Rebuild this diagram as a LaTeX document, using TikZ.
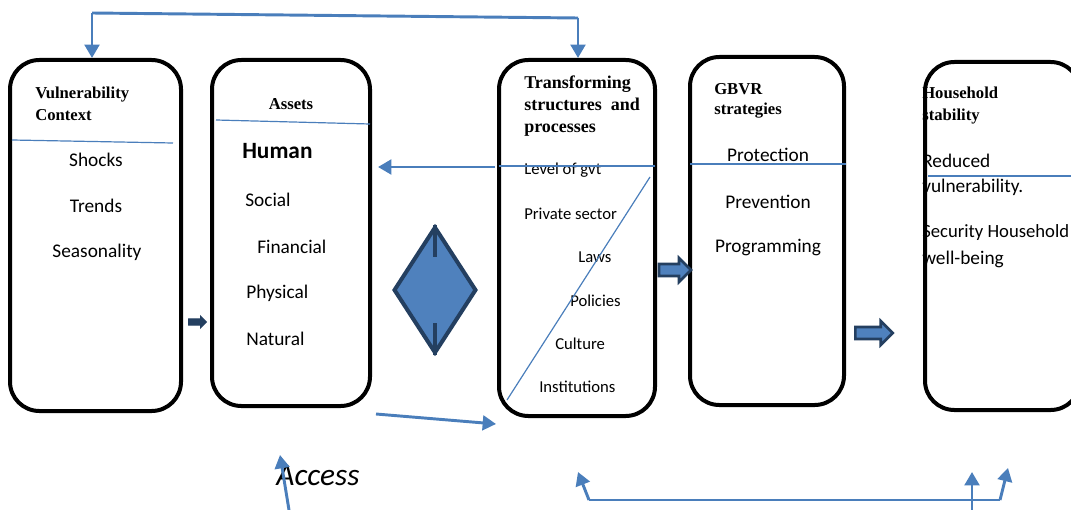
\documentclass[tikz,border=0pt]{standalone}
\usepackage{fontspec}
\setmainfont{Carlito}
\newfontfamily\headfont{Liberation Serif}
\usetikzlibrary{arrows.meta}
\usetikzlibrary{shapes.geometric}
\usetikzlibrary{shapes.arrows}
\usetikzlibrary{fit}
\usetikzlibrary{positioning}

\definecolor{lineblue}{HTML}{4A7EBB}
\definecolor{fillblue}{HTML}{4F81BD}
\definecolor{darkblue}{HTML}{243F60}

\tikzset{
  panel/.style={draw=black, line width=3pt, rounded corners=22pt, inner sep=0pt},
  head/.style={font=\headfont\bfseries\fontsize{12.5}{16.5}\selectfont, anchor=west, align=left, inner sep=0pt},
  item/.style={font=\fontsize{14.5}{17}\selectfont, inner sep=0pt},
  itemw/.style={item, anchor=west},
  minor/.style={font=\fontsize{12.5}{15}\selectfont, anchor=west, inner sep=0pt},
  rule/.style={draw=lineblue, line width=0.9pt},
  link/.style={draw=lineblue, line width=2.2pt, -{Triangle[width=11pt,length=10pt]}},
  bigarrow/.style={single arrow, draw=darkblue, fill=fillblue, line width=2pt, inner sep=3.5pt,
    single arrow head extend=4.5pt, minimum height=24pt}
}

\begin{document}
\begin{tikzpicture}[x=0.75pt, y=-0.75pt]
  \useasboundingbox (0,0) rectangle (1071,510);

  % texts of the panels
  \node[head] (vultitle) at (35,104) {Vulnerability\\Context};
  \node[item] (shocks) at (96,160) {Shocks};
  \node[item] (trends) at (96,206) {Trends};
  \node[item] (season) at (97,252) {Seasonality};

  \node[head, anchor=center] (assettitle) at (291,104) {Assets};
  \node[item, anchor=west, font=\bfseries\fontsize{17.5}{20}\selectfont] (human) at (242,151) {Human};
  \node[itemw] (social) at (245,200) {Social};
  \node[itemw] (financial) at (257,247) {Financial};
  \node[itemw] (physical) at (246,293) {Physical};
  \node[itemw] (natural) at (246,339) {Natural};

  \node[head, font=\headfont\bfseries\fontsize{13.5}{16.5}\selectfont] (transtitle) at (524,106) {Transforming\\structures~ and\\processes};
  \node[minor] (gvt) at (524,170) {Level of gvt};
  \node[minor] (private) at (524,214) {Private sector};
  \node[minor] (laws) at (578,257) {Laws};
  \node[minor] (policies) at (570,301) {Policies};
  \node[minor] (culture) at (555,344) {Culture};
  \node[minor] (institutions) at (539,387) {Institutions};

  \node[head, font=\headfont\bfseries\fontsize{12.5}{15}\selectfont] (gbvrtitle) at (714,101) {GBVR\\strategies};
  \node[item] (protection) at (768,155) {Protection};
  \node[item] (prevention) at (768,202) {Prevention};
  \node[item] (programming) at (768,248) {Programming};

  \node[head] (hhtitle) at (922,106) {Household\\stability};
  \node[itemw] (reduced) at (922,161) {Reduced};
  \node[itemw] (vulner) at (922,187) {vulnerability.};
  \node[itemw, font=\fontsize{14}{17}\selectfont] (security) at (922,233) {Security Household};
  \node[itemw] (wellbeing) at (922,259) {well-being};

  % panels
  \node[panel, fit={(10,60) (181,411)}] (vul) {};
  \node[panel, fit={(212,60) (370,406)}] (asset) {};
  \node[panel, fit={(499,60) (655,416)}] (trans) {};
  \node[panel, fit={(690,57) (844,405)}] (gbvr) {};
  \node[panel, fit={(925,62) (1080,410)}] (hh) {};

  % blue rules inside the panels
  \draw[rule] (12,140) -- (173,143);
  \draw[rule] (216,120) -- (370,124);
  \draw[rule] (499,166) -- (655,166);
  \draw[rule] (507,400) -- (650,177);
  \draw[rule] (690,164) -- (846,164);
  \draw[rule] (928,176) -- (1071,176);

  % diamond
  \node[diamond, draw=darkblue, fill=fillblue, line width=3pt, inner sep=0pt,
    minimum width=62pt, minimum height=95pt] (dia) at (435,290) {};
  \draw[darkblue, line width=3pt] (dia.north) -- ++(0,32);
  \draw[darkblue, line width=3pt] (dia.south) -- ++(0,-32);

  % block arrows
  \node[single arrow, draw=darkblue, fill=darkblue, line width=1pt, inner sep=1.8pt,
    single arrow head extend=1.8pt, minimum height=13pt] (va) at (196,322) {};
  \node[bigarrow] (tg) at (672,270) {};
  \node[bigarrow, minimum height=28pt] (gh) at (871,333) {};

  % feedback connectors
  \coordinate (topl) at (92,13);
  \coordinate (topr) at (578,18);
  \draw[lineblue, line width=2.2pt] (topl) -- (topr);
  \draw[link] (topl) -- (topl |- vul.north);
  \draw[link] (topr) -- (topr |- trans.north);

  \coordinate (gvtend) at (495,167);
  \coordinate (assetend) at (378,167);
  \draw[link] (gvtend) -- (assetend);

  \coordinate (lowstart) at (376,414);
  \coordinate (lowend) at (496,424);
  \draw[link] (lowstart) -- (lowend);

  % access
  \node[item, font=\itshape\fontsize{23.5}{26}\selectfont] (access) at (318,476) {Access};
  \coordinate (accfoot) at (289,510);
  \coordinate (acctip) at (280,455);
  \draw[link] (accfoot) -- (acctip);

  % bottom bracket
  \coordinate (bl) at (589,500);
  \coordinate (br) at (1000,500);
  \coordinate (bltip) at (578,472);
  \coordinate (brtip) at (1008,468);
  \coordinate (bmfoot) at (972,510);
  \coordinate (bmtip) at (972,472);
  \draw[lineblue, line width=2.2pt] (bl) -- (br);
  \draw[link] (bl) -- (bltip);
  \draw[link] (br) -- (brtip);
  \draw[link] (bmfoot) -- (bmtip);
\end{tikzpicture}
\end{document}
